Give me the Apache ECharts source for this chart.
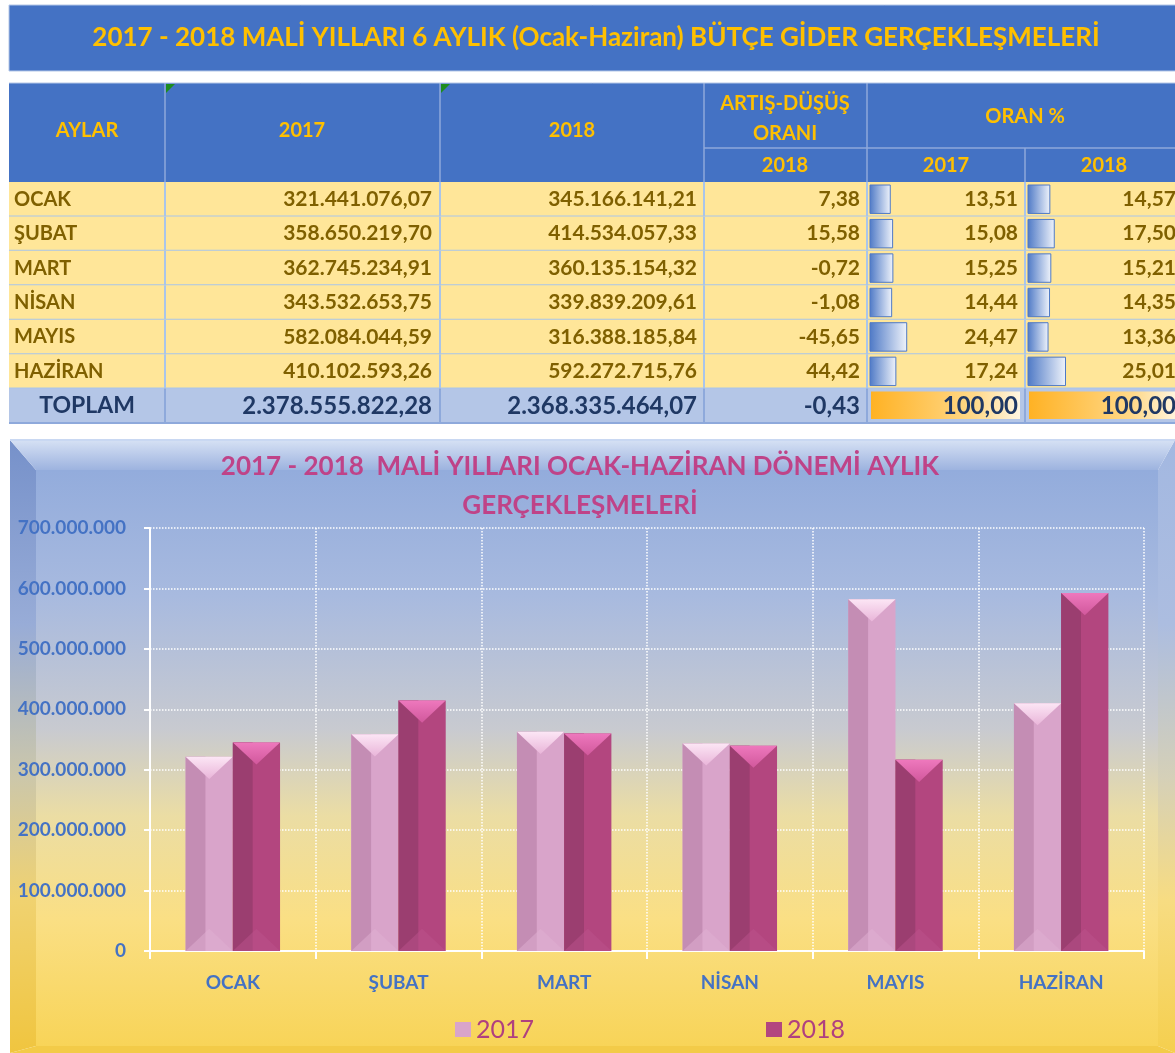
<!DOCTYPE html>
<html>
<head>
<meta charset="utf-8">
<script src="https://cdn.jsdelivr.net/npm/echarts@6/dist/echarts.min.js"></script>
<style>
  html, body { margin: 0; padding: 0; background: #fff; }
  #main { width: 1175px; height: 1053px; }
</style>
</head>
<body>
<div id="main"></div>
<script>
// monthly budget spending, Jan-Jun 2017 / 2018
var months = ['OCAK', 'ŞUBAT', 'MART', 'NİSAN', 'MAYIS', 'HAZİRAN'];
var spend2017 = [321441076.07, 358650219.70, 362745234.91, 343532653.75, 582084044.59, 410102593.26];
var spend2018 = [345166141.21, 414534057.33, 360135154.32, 339839209.61, 316388185.84, 592272715.76];
var changePct = [7.38, 15.58, -0.72, -1.08, -45.65, 44.42];
var share2017 = [13.51, 15.08, 15.25, 14.44, 24.47, 17.24];
var share2018 = [14.57, 17.50, 15.21, 14.35, 13.36, 25.01];
var total2017 = 2378555822.28;
var total2018 = 2368335464.07;
var totalChange = -0.43;
var totalShare = 100;
var years = ['2017', '2018'];
var yMax = 700000000;
var yStep = 100000000;

var FONT = 'Lato, "Open Sans", sans-serif';
var colEdges = [9, 165, 440, 704, 867, 1025, 1183];
var headBlue = '#4472C4';
var gold = '#FFC000';

function trNum(v, digits) {
    var parts = Math.abs(v).toFixed(digits).split('.');
    var s = parts[0].replace(/\B(?=(\d{3})+(?!\d))/g, '.');
    if (digits) s += ',' + parts[1];
    return (v < 0 ? '-' : '') + s;
}

function txt(text, x, y, size, color, align, weight) {
    return {
        type: 'text', x: x, y: y,
        style: {
            text: text, fill: color, align: align || 'center', verticalAlign: 'middle',
            font: (weight || 'bold') + ' ' + size + 'px ' + FONT
        }
    };
}

function line(x1, y1, x2, y2, color, w) {
    return { type: 'line', shape: { x1: x1, y1: y1, x2: x2, y2: y2 }, style: { stroke: color, lineWidth: w || 1 } };
}

// ---- header banner + table head (static layout) ----
var graphics = [];
graphics.push({ type: 'rect', shape: { x: 9, y: 5, width: 1170, height: 66 }, style: { fill: headBlue, stroke: '#B4C7E7', lineWidth: 1 } });
graphics.push(txt('2017 - 2018 MALİ YILLARI 6 AYLIK (Ocak-Haziran) BÜTÇE GİDER GERÇEKLEŞMELERİ', 596, 38, 26, gold));

graphics.push({ type: 'rect', shape: { x: 9, y: 83, width: 1174, height: 99 }, style: { fill: headBlue } });
[165, 440, 704, 867].forEach(function (x) { graphics.push(line(x, 83, x, 182, '#8EA9DB', 1.5)); });
graphics.push(line(1025, 148, 1025, 182, '#8EA9DB', 1.5));
graphics.push(line(704, 148, 1183, 148, '#8EA9DB', 1.5));
graphics.push(line(9, 83, 1183, 83, '#B4C7E7', 1));
[166, 441].forEach(function (x) {
    graphics.push({ type: 'polygon', shape: { points: [[x, 84], [x + 9, 84], [x, 93]] }, style: { fill: '#1E8C1E' } });
});
graphics.push(txt('AYLAR', 87, 131, 20, gold));
graphics.push(txt(years[0], 302, 131, 20, gold));
graphics.push(txt(years[1], 572, 131, 20, gold));
graphics.push(txt('ARTIŞ-DÜŞÜŞ', 785, 104, 20, gold));
graphics.push(txt('ORANI', 785, 134, 20, gold));
graphics.push(txt('ORAN %', 1025, 117, 20, gold));
graphics.push(txt(years[1], 785, 166, 20, gold));
graphics.push(txt(years[0], 946, 166, 20, gold));
graphics.push(txt(years[1], 1104, 166, 20, gold));

// ---- chart panel with bevelled frame ----
var PX0 = 10, PX1 = 1175, PY0 = 440, PY1 = 1053;
var IX0 = 36, IX1 = 1158, IY0 = 470, IY1 = 1046;
function vgrad(stops) {
    return new echarts.graphic.LinearGradient(0, 0, 0, 1, stops.map(function (s) { return { offset: s[0], color: s[1] }; }));
}
graphics.push({ type: 'polygon', z: -10, shape: { points: [[PX0, PY0], [IX0, IY0], [IX0, IY1], [PX0, PY1]] },
    style: { fill: vgrad([[0, '#7691CA'], [0.3, '#98ACD7'], [0.55, '#CCC7AA'], [0.75, '#F0D270'], [1, '#F0C53F']]) } });
graphics.push({ type: 'polygon', z: -10, shape: { points: [[PX1, PY0], [PX1, PY1], [IX1, IY1], [IX1, IY0]] },
    style: { fill: vgrad([[0, '#A3B8E1'], [0.3, '#ACBDE0'], [0.55, '#D5D0B8'], [0.75, '#F7DC82'], [1, '#F5CF4E']]) } });
graphics.push({ type: 'polygon', z: -10, shape: { points: [[PX0, PY0], [PX1, PY0], [IX1, IY0], [IX0, IY0]] },
    style: { fill: vgrad([[0, '#D6E1F4'], [1, '#9DB3DF']]) } });
graphics.push({ type: 'polygon', z: -10, shape: { points: [[PX0, PY1], [PX1, PY1], [IX1, IY1], [IX0, IY1]] },
    style: { fill: '#F3CB48' } });
graphics.push({ type: 'rect', z: -10, shape: { x: IX0, y: IY0, width: IX1 - IX0, height: IY1 - IY0 },
    style: { fill: vgrad([[0, '#93ACDC'], [0.22, '#A8BADF'], [0.45, '#C8CAD0'], [0.6, '#EBDDA4'], [0.78, '#FADF84'], [1, '#F8D458']]) } });
graphics.push(line(PX0, PY0, PX1, PY0, '#C9D8F2', 2));

// ---- table body rows (custom series on a hidden grid) ----
var rowNames = months.concat(['TOPLAM']);
var blueBar = new echarts.graphic.LinearGradient(0, 0, 1, 0, [{ offset: 0, color: '#4E79C6' }, { offset: 1, color: '#F0F4FB' }]);
var orangeBar = new echarts.graphic.LinearGradient(0, 0, 1, 0, [{ offset: 0, color: '#FFB224' }, { offset: 0.7, color: '#FFD98A' }, { offset: 1, color: '#FFF6E2' }]);

function renderTableRow(params, api) {
    var r = api.value(1);
    var mid = api.coord([0, r])[1];
    var h = api.size([0, 1])[1];
    var top = mid - h / 2;
    var total = r === months.length;
    var kids = [];
    kids.push({ type: 'rect', shape: { x: colEdges[0], y: top, width: colEdges[6] - colEdges[0], height: h },
        style: { fill: total ? '#B4C6E7' : '#FFE699' } });
    var shares = total ? [totalShare, totalShare] : [share2017[r], share2018[r]];
    for (var k = 0; k < 2; k++) {
        var bx = colEdges[4 + k] + 3;
        if (total) {
            kids.push({ type: 'rect', shape: { x: bx + 1, y: top + 3, width: colEdges[5 + k] - bx - 6, height: h - 7 },
                style: { fill: orangeBar } });
        } else {
            kids.push({ type: 'rect', shape: { x: bx, y: top + 3, width: shares[k] * 1.5, height: h - 6 },
                style: { fill: blueBar, stroke: '#4E79C6', lineWidth: 1 } });
        }
    }
    var lc = total ? '#8EA9DB' : '#A9C5EA';
    for (var c = 1; c < 6; c++) kids.push(line(colEdges[c], top, colEdges[c], top + h, lc, 2));
    kids.push(line(colEdges[0], top + h, colEdges[6], top + h, lc, 2));

    var color = total ? '#1F3864' : '#7F6000';
    var size = total ? 24 : 21;
    var vals = total
        ? [trNum(total2017, 2), trNum(total2018, 2), trNum(totalChange, 2), trNum(totalShare, 2), trNum(totalShare, 2)]
        : [trNum(spend2017[r], 2), trNum(spend2018[r], 2), trNum(changePct[r], 2), trNum(share2017[r], 2), trNum(share2018[r], 2)];
    if (total) kids.push(txt(rowNames[r], 87, mid, 23, color));
    else kids.push(txt(rowNames[r], 14, mid, 20, color, 'left'));
    var rightX = [432, 697, 860, 1018, 1176];
    vals.forEach(function (v, j) { kids.push(txt(v, rightX[j], mid, size, color, 'right')); });
    return { type: 'group', children: kids };
}

// ---- bevelled 3D-look bars ----
var palettes = [
    { face: '#D9A4CA', side: '#C48DB4', capTop: '#FCE6F5', capBot: '#E9B5D9', foot: '#E0AFD2' },
    { face: '#B3467F', side: '#9B3E70', capTop: '#EE78BD', capBot: '#D1589C', foot: '#BC528C' }
];

function bevelBar(pal, side) {
    return function (params, api) {
        var i = api.value(0);
        var topPt = api.coord([i, api.value(1)]);
        var basePt = api.coord([i, 0]);
        var w = api.size([1, 0])[0] * 0.285;
        var x = side < 0 ? topPt[0] - w : topPt[0];
        var y0 = topPt[1], y1 = basePt[1], d = w * 0.47;
        return {
            type: 'group',
            children: [
                { type: 'rect', shape: { x: x, y: y0, width: w, height: y1 - y0 }, style: { fill: pal.face } },
                { type: 'rect', shape: { x: x, y: y0, width: w * 0.42, height: y1 - y0 }, style: { fill: pal.side } },
                { type: 'polygon', shape: { points: [[x, y1], [x + w, y1], [x + w / 2, y1 - d]] }, style: { fill: pal.foot, opacity: 0.5 } },
                { type: 'polygon', shape: { points: [[x, y0], [x + w, y0], [x + w / 2, y0 + d]] },
                    style: { fill: vgrad([[0, pal.capTop], [1, pal.capBot]]) } }
            ]
        };
    };
}

var axisLabelStyle = { color: '#4472C4', fontFamily: FONT, fontWeight: 'bold', fontSize: 19 };
var whiteDots = { color: '#FFFFFF', type: 'dotted', width: 1.5 };

var option = {
    animation: false,
    backgroundColor: '#FFFFFF',
    title: {
        text: '2017 - 2018  MALİ YILLARI OCAK-HAZİRAN DÖNEMİ AYLIK\nGERÇEKLEŞMELERİ',
        left: 580, top: 447, textAlign: 'center', padding: 0,
        textStyle: { color: '#BF4388', fontFamily: FONT, fontWeight: 'bold', fontSize: 26, lineHeight: 39 }
    },
    legend: {
        data: years, left: 450, top: 1012, itemWidth: 16, itemHeight: 15, itemGap: 232, icon: 'rect',
        textStyle: { color: '#B0407F', fontFamily: FONT, fontSize: 25 }
    },
    graphic: graphics,
    grid: [
        { left: 150, right: 31, top: 528, bottom: 102 },
        { left: 9, top: 182, width: 1174, height: 241 }
    ],
    xAxis: [
        {
            type: 'category', data: months, gridIndex: 0,
            axisLine: { lineStyle: { color: '#FFFFFF', width: 2 } },
            axisTick: { show: true, length: 8, lineStyle: { color: '#FFFFFF', width: 2 } },
            axisLabel: Object.assign({ margin: 22 }, axisLabelStyle),
            splitLine: { show: true, lineStyle: whiteDots }
        },
        { type: 'value', gridIndex: 1, min: 0, max: 1, show: false }
    ],
    yAxis: [
        {
            type: 'value', gridIndex: 0, min: 0, max: yMax, interval: yStep,
            axisLine: { show: true, lineStyle: { color: '#FFFFFF', width: 2 } },
            axisTick: { show: true, length: 6, lineStyle: { color: '#FFFFFF', width: 2 } },
            axisLabel: Object.assign({ margin: 24, formatter: function (v) { return trNum(v, 0); } }, axisLabelStyle),
            splitLine: { show: true, lineStyle: whiteDots }
        },
        { type: 'category', gridIndex: 1, data: rowNames, inverse: true, show: false }
    ],
    series: [
        {
            name: years[0], type: 'custom', xAxisIndex: 0, yAxisIndex: 0,
            itemStyle: { color: palettes[0].face },
            renderItem: bevelBar(palettes[0], -1),
            data: spend2017.map(function (v, i) { return [i, v]; })
        },
        {
            name: years[1], type: 'custom', xAxisIndex: 0, yAxisIndex: 0,
            itemStyle: { color: palettes[1].face },
            renderItem: bevelBar(palettes[1], 1),
            data: spend2018.map(function (v, i) { return [i, v]; })
        },
        {
            name: 'tablo', type: 'custom', xAxisIndex: 1, yAxisIndex: 1, silent: true,
            renderItem: renderTableRow,
            data: rowNames.map(function (n, i) { return [0, i]; })
        }
    ]
};

var chart = echarts.init(document.getElementById('main'));
chart.setOption(option);
</script>
</body>
</html>
